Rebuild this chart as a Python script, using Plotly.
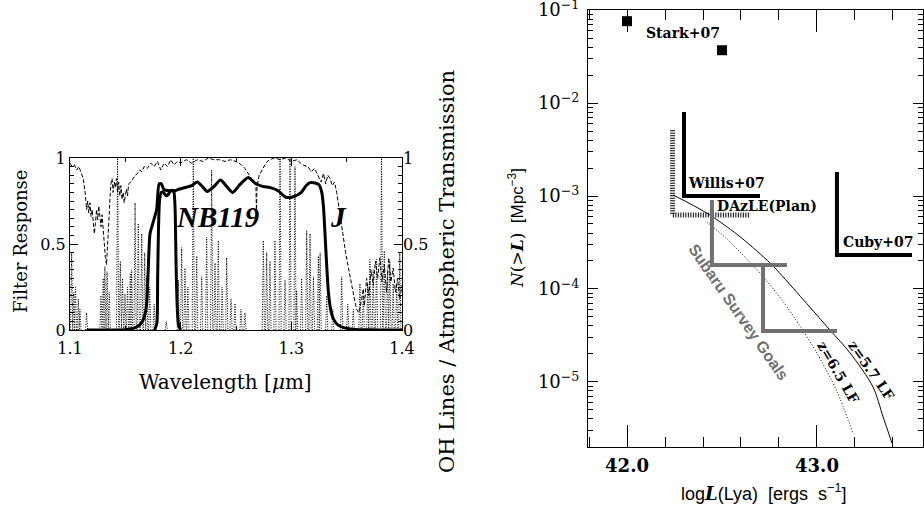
import plotly.graph_objects as go

W, H = 924, 510

# ---------------- Left panel data ----------------
j_wl = [1.115, 1.140, 1.150, 1.155, 1.161, 1.165, 1.168, 1.1695, 1.1708, 1.1723, 1.1753, 1.1783, 1.1805,
        1.1825, 1.185, 1.190, 1.195, 1.199, 1.205, 1.210, 1.215, 1.2195, 1.224, 1.2295, 1.236,
        1.2415, 1.247, 1.2535, 1.261, 1.267, 1.274, 1.281, 1.288, 1.295, 1.302, 1.309, 1.3135,
        1.317, 1.3215, 1.325, 1.3275, 1.329, 1.3305, 1.332, 1.3335, 1.3355, 1.338, 1.342,
        1.348, 1.355, 1.365, 1.380, 1.400]
j_resp = [0.0, 0.0, 0.002, 0.006, 0.02, 0.045, 0.10, 0.17, 0.37, 0.56, 0.63, 0.70, 0.85,
          0.85, 0.815, 0.81, 0.81, 0.82, 0.83, 0.84, 0.86, 0.835, 0.805, 0.83, 0.872,
          0.835, 0.80, 0.845, 0.887, 0.855, 0.835, 0.828, 0.81, 0.772, 0.775, 0.80, 0.84,
          0.857, 0.855, 0.845, 0.80, 0.72, 0.55, 0.37, 0.22, 0.12, 0.065, 0.03,
          0.012, 0.005, 0.002, 0.0, 0.0]

nb_wl = [1.1765, 1.1785, 1.1792, 1.180, 1.181, 1.1825, 1.1845, 1.187, 1.189, 1.191, 1.193,
         1.194, 1.195, 1.1958, 1.1968, 1.198, 1.200]
nb_resp = [0.0, 0.04, 0.30, 0.60, 0.76, 0.80, 0.80, 0.78, 0.79, 0.81, 0.81,
           0.80, 0.70, 0.40, 0.15, 0.03, 0.0]

atm_wl = [1.100, 1.102, 1.104, 1.106, 1.108, 1.110, 1.112, 1.114, 1.115, 1.116, 1.117, 1.118,
          1.119, 1.120, 1.121, 1.122, 1.123, 1.124, 1.125, 1.126, 1.127, 1.128, 1.129, 1.130,
          1.131, 1.132, 1.133, 1.134, 1.135, 1.136, 1.137, 1.138, 1.139, 1.140, 1.141, 1.142,
          1.143, 1.144, 1.145, 1.146, 1.147, 1.148, 1.149, 1.150, 1.151, 1.152, 1.153, 1.155,
          1.157, 1.159, 1.161, 1.163, 1.165, 1.167, 1.170, 1.173, 1.176, 1.179, 1.182, 1.185,
          1.188, 1.191, 1.194, 1.197, 1.200, 1.205, 1.210, 1.215, 1.220, 1.225, 1.230, 1.235,
          1.240, 1.245, 1.250, 1.255, 1.258, 1.261, 1.264, 1.266, 1.268, 1.2685, 1.269, 1.271,
          1.274, 1.277, 1.280, 1.285, 1.290, 1.295, 1.300, 1.305, 1.310, 1.315, 1.318, 1.321,
          1.324, 1.327, 1.329, 1.331, 1.333, 1.335, 1.337, 1.339, 1.341, 1.343, 1.345, 1.347,
          1.349, 1.351, 1.353, 1.355, 1.357, 1.359, 1.361, 1.363, 1.365, 1.366, 1.368, 1.370,
          1.372, 1.374, 1.376, 1.378, 1.380, 1.382, 1.384, 1.386, 1.388, 1.390, 1.392, 1.394,
          1.396, 1.398, 1.400]
atm_trans = [0.97, 0.95, 0.96, 0.93, 0.95, 0.92, 0.88, 0.78, 0.70, 0.75, 0.68, 0.74,
             0.66, 0.70, 0.62, 0.56, 0.62, 0.70, 0.64, 0.72, 0.66, 0.60, 0.67, 0.58,
             0.48, 0.42, 0.38, 0.48, 0.62, 0.75, 0.85, 0.88, 0.80, 0.86, 0.83, 0.88,
             0.80, 0.86, 0.78, 0.84, 0.76, 0.80, 0.74, 0.78, 0.82, 0.78, 0.85, 0.86,
             0.88, 0.90, 0.91, 0.93, 0.92, 0.95, 0.94, 0.97, 0.95, 0.98, 0.93, 0.97,
             0.95, 0.99, 0.96, 0.98, 0.97, 0.99, 0.97, 0.99, 0.98, 1.00, 0.99, 0.99,
             0.98, 0.99, 0.98, 0.96, 0.94, 0.91, 0.88, 0.86, 0.84, 0.68, 0.84, 0.90,
             0.94, 0.97, 0.99, 1.00, 0.99, 1.00, 0.98, 0.99, 0.96, 0.95, 0.92, 0.94,
             0.90, 0.86, 0.91, 0.85, 0.90, 0.88, 0.84, 0.86, 0.80, 0.72, 0.62, 0.54,
             0.45, 0.38, 0.30, 0.24, 0.18, 0.12, 0.10, 0.16, 0.24, 0.14, 0.30, 0.20,
             0.35, 0.26, 0.40, 0.30, 0.42, 0.28, 0.38, 0.22, 0.42, 0.28, 0.36, 0.22,
             0.30, 0.18, 0.26]

oh_wl = [1.1015, 1.1035, 1.1050, 1.1075, 1.1090, 1.1150, 1.1280, 1.1300, 1.1315, 1.1335,
         1.1355, 1.1430, 1.1455, 1.1475, 1.1497, 1.1520, 1.1545, 1.1557, 1.1588, 1.1617,
         1.1648, 1.1675, 1.1693, 1.1720, 1.1760, 1.1870, 1.1979, 1.2009, 1.2039, 1.2065,
         1.2114, 1.2145, 1.2190, 1.2235, 1.2280, 1.2310, 1.2340, 1.2375, 1.2416, 1.2455,
         1.2491, 1.2545, 1.2581, 1.2747, 1.2777, 1.2807, 1.2852, 1.2898, 1.2943, 1.2988,
         1.3033, 1.3048, 1.3093, 1.3139, 1.3169, 1.3200, 1.3244, 1.3260, 1.3320, 1.3375,
         1.3455, 1.3510, 1.3560, 1.3620, 1.3650, 1.3690, 1.3710, 1.3740, 1.3770, 1.3815,
         1.3840, 1.3870, 1.3890, 1.3920, 1.3952, 1.3980]
oh_int = [0.45, 0.22, 0.25, 0.18, 0.12, 0.10, 0.20, 0.30, 0.37, 0.34,
          0.22, 1.00, 0.40, 0.30, 0.21, 0.25, 0.33, 0.35, 0.74, 0.62,
          0.56, 0.45, 0.31, 0.25, 0.15, 0.05, 0.29, 0.48, 0.36, 0.25,
          1.00, 0.43, 0.31, 0.54, 0.93, 0.39, 0.52, 0.25, 0.42, 0.18,
          0.155, 0.12, 0.10, 0.52, 0.45, 0.40, 0.52, 1.00, 0.29, 1.00,
          0.95, 0.23, 0.30, 0.58, 0.56, 0.31, 0.43, 0.45, 0.20, 0.12,
          0.31, 0.15, 0.12, 0.27, 0.20, 0.27, 0.41, 0.35, 0.41, 1.00,
          0.46, 0.35, 0.40, 0.27, 0.27, 0.45]

# ---------------- Right panel data ----------------
stark_logL = [42.0, 42.5]
stark_N = [0.076, 0.037]

willis_logL = [42.3, 42.3, 42.7]
willis_N = [8.0e-3, 1.0e-3, 1.0e-3]

dazle_logL = [42.24, 42.24, 42.65]
dazle_N = [5.1e-3, 6.25e-4, 6.25e-4]

subaru1_logL = [42.447, 42.447, 42.842]
subaru1_N = [9.06e-4, 1.81e-4, 1.81e-4]
subaru2_logL = [42.716, 42.716, 43.105]
subaru2_N = [1.81e-4, 3.53e-5, 3.53e-5]

cuby_logL = [43.105, 43.105, 43.50]
cuby_N = [1.81e-3, 2.32e-4, 2.32e-4]

lf57_logL = [42.242, 42.35, 42.453, 42.60, 42.753, 42.789, 42.93, 43.068, 43.174, 43.295, 43.347, 43.395]
lf57_N = [1.026e-3, 7.9e-4, 5.94e-4, 3.58e-4, 1.905e-4, 1.60e-4, 7.59e-5, 3.62e-5, 2.05e-5,
          8.83e-6, 4.27e-6, 2.19e-6]

lf65_logL = [42.421, 42.53, 42.637, 42.726, 42.82, 42.911, 43.0, 43.105, 43.189]
lf65_N = [5.25e-4, 3.39e-4, 2.04e-4, 1.29e-4, 7.41e-5, 3.98e-5, 2.04e-5, 7.94e-6, 2.82e-6]

# ---------------- helpers ----------------
def px(xp):
    return xp / W

def py(yp):
    return 1 - yp / H

SERIF = "DejaVu Serif"
TIMES = "Liberation Serif"
SANS = "Liberation Sans"

fig = go.Figure()

# OH spectrum as narrow spikes (dotted)
oh_x, oh_y = [], []
hw = 0.0010
for wl, h in zip(oh_wl, oh_int):
    oh_x += [wl - hw, wl, wl + hw, None]
    oh_y += [0, h, 0, None]
fig.add_trace(go.Scatter(x=oh_x, y=oh_y, mode="lines", xaxis="x", yaxis="y2",
                         line=dict(color="black", width=1, dash="1px,1.5px"), hoverinfo="skip"))
# Atmospheric transmission (dashed)
fig.add_trace(go.Scatter(x=atm_wl, y=atm_trans, mode="lines", xaxis="x", yaxis="y2",
                         line=dict(color="black", width=1, dash="4px,2px")))
# J filter
fig.add_trace(go.Scatter(x=j_wl, y=j_resp, mode="lines", xaxis="x", yaxis="y",
                         line=dict(color="black", width=3, shape="spline", smoothing=0.6)))
# NB119 filter
fig.add_trace(go.Scatter(x=nb_wl, y=nb_resp, mode="lines", xaxis="x", yaxis="y",
                         line=dict(color="black", width=3, shape="spline", smoothing=0.6)))

# ---------------- right panel traces ----------------
fig.add_trace(go.Scatter(x=lf57_logL, y=lf57_N, mode="lines", xaxis="x3", yaxis="y3",
                         line=dict(color="black", width=1, shape="spline", smoothing=0.8)))
fig.add_trace(go.Scatter(x=lf65_logL, y=lf65_N, mode="lines", xaxis="x3", yaxis="y3",
                         line=dict(color="black", width=1, dash="1px,2px", shape="spline",
                                   smoothing=0.8)))
fig.add_trace(go.Scatter(x=dazle_logL, y=dazle_N, mode="lines", xaxis="x3", yaxis="y3",
                         line=dict(color="black", width=5, dash="1px,1.5px")))
fig.add_trace(go.Scatter(x=willis_logL, y=willis_N, mode="lines", xaxis="x3", yaxis="y3",
                         line=dict(color="black", width=4)))
fig.add_trace(go.Scatter(x=cuby_logL, y=cuby_N, mode="lines", xaxis="x3", yaxis="y3",
                         line=dict(color="black", width=4)))
fig.add_trace(go.Scatter(x=subaru1_logL, y=subaru1_N, mode="lines", xaxis="x3", yaxis="y3",
                         line=dict(color="#717171", width=4)))
fig.add_trace(go.Scatter(x=subaru2_logL, y=subaru2_N, mode="lines", xaxis="x3", yaxis="y3",
                         line=dict(color="#717171", width=4)))
fig.add_trace(go.Scatter(x=stark_logL, y=stark_N, mode="markers", xaxis="x3", yaxis="y3",
                         marker=dict(symbol="square", size=10, color="black")))

tickfont_left = dict(family=SERIF, size=16, color="black")

log_minor = [k * 10.0 ** e for e in range(-6, -1) for k in range(2, 10)]

fig.update_layout(
    template="none",
    width=W, height=H, margin=dict(l=0, r=0, t=0, b=0, pad=0), autosize=False,
    paper_bgcolor="white", plot_bgcolor="white", showlegend=False, hovermode=False,
    xaxis=dict(domain=[px(70), px(402)], range=[1.1, 1.4], anchor="y", automargin=False,
               tickvals=[1.1, 1.2, 1.3, 1.4], ticktext=["1.1", "1.2", "1.3", "1.4"],
               ticks="inside", ticklen=8, tickcolor="black", showline=True, linecolor="black",
               linewidth=1, mirror="ticks", showgrid=False, zeroline=False,
               tickfont=tickfont_left, ticklabelstandoff=4, ticklabeloverflow="allow",
               minor=dict(dtick=0.05, tick0=1.1, ticks="inside", ticklen=4, tickcolor="black",
                          showgrid=False)),
    yaxis=dict(domain=[py(330), py(158)], range=[0, 1], anchor="x", automargin=False,
               tickvals=[0, 0.5, 1], ticktext=["0", "0.5", "1"],
               ticks="inside", ticklen=8, tickcolor="black", showline=True, linecolor="black",
               linewidth=1, mirror=True, showgrid=False, zeroline=False,
               tickfont=tickfont_left, ticklabelstandoff=0, ticklabeloverflow="allow",
               minor=dict(dtick=0.05, tick0=0, ticks="inside", ticklen=4, tickcolor="black",
                          showgrid=False)),
    yaxis2=dict(range=[0, 1], overlaying="y", side="right", anchor="x", automargin=False,
                tickvals=[0, 0.5, 1], ticktext=["0", "0.5", "1"],
                ticks="inside", ticklen=8, tickcolor="black", showline=False,
                showgrid=False, zeroline=False, tickfont=tickfont_left, ticklabelstandoff=0,
                ticklabeloverflow="allow",
                minor=dict(dtick=0.05, tick0=0, ticks="inside", ticklen=4, tickcolor="black",
                           showgrid=False)),
    xaxis3=dict(domain=[px(588), px(923)], range=[41.7947, 43.558], anchor="y3", automargin=False,
                tickvals=[42, 43], ticktext=["42.0", "43.0"],
                ticks="inside", ticklen=22, tickcolor="black", showline=True, linecolor="black",
                linewidth=1, mirror="ticks", showgrid=False, zeroline=False,
                tickfont=dict(family=SERIF, size=18, color="black", weight="bold"),
                ticklabelstandoff=2, ticklabeloverflow="allow",
                minor=dict(dtick=0.2, tick0=42, ticks="inside", ticklen=10, tickcolor="black",
                           showgrid=False)),
    yaxis3=dict(domain=[py(447), py(10)], type="log", range=[-5.70, -0.999], anchor="x3",
                automargin=False,
                tickvals=[1e-5, 1e-4, 1e-3, 1e-2, 1e-1],
                ticktext=["10<sup>−5</sup>", "10<sup>−4</sup>", "10<sup>−3</sup>",
                          "10<sup>−2</sup>", "10<sup>−1</sup>"],
                ticks="inside", ticklen=10, tickcolor="black", showline=True, linecolor="black",
                linewidth=1, mirror="ticks", showgrid=False, zeroline=False,
                tickfont=dict(family=SERIF, size=18, color="black"), ticklabelstandoff=4,
                ticklabeloverflow="allow",
                minor=dict(tickvals=log_minor, ticks="inside", ticklen=5, tickcolor="black",
                           showgrid=False)),
)

ann = []
def add_text(text, x, y, size, family, angle=0, color="black"):
    ann.append(dict(text=text, x=px(x), y=py(y), xref="paper", yref="paper",
                    showarrow=False, textangle=angle, xanchor="center", yanchor="middle",
                    font=dict(family=family, size=size, color=color)))

# left panel texts
add_text("Filter Response", 20, 241, 18, SERIF, angle=-90)
add_text("OH Lines / Atmospheric Transmission", 447, 272, 21, SERIF, angle=-90)
add_text("Wavelength [<i>μ</i>m]", 225, 382, 20, SERIF)
add_text("<b><i>NB119</i></b>", 217, 217, 29, TIMES)
add_text("<b><i>J</i></b>", 338, 217, 29, TIMES)

# right panel texts
add_text("<span style=\"font-family:DejaVu Serif\"><i>N</i>(&gt;<b><i>L</i></b>)</span>"
         "  [Mpc<sup>−3</sup>]", 516, 228, 17, SANS, angle=-90)
add_text("log<span style=\"font-family:DejaVu Serif\"><b><i>L</i></b></span>(Lya)  [ergs  s<sup>−1</sup>]",
         763, 492, 18, SANS)
add_text("<b>Stark+07</b>", 683, 33, 14, SERIF)
add_text("<b>Willis+07</b>", 726, 183, 14, SERIF)
add_text("<b>DAzLE(Plan)</b>", 767, 206, 14, SERIF)
add_text("<b>Cuby+07</b>", 878, 242, 14, SERIF)
add_text("<b>Subaru Survey Goals</b>", 739, 312, 16, SANS, angle=55, color="#717171")
add_text("<b>z=6.5 LF</b>", 838, 372, 14, SERIF, angle=60)
add_text("<b>z=5.7 LF</b>", 871, 370, 14, SERIF, angle=55)

fig.update_layout(annotations=ann)

fig.write_html("out.html", config={"displayModeBar": False, "staticPlot": True},
               post_script="document.body.style.margin='0';document.body.style.padding='0';"
                           "document.body.style.overflow='hidden';")
